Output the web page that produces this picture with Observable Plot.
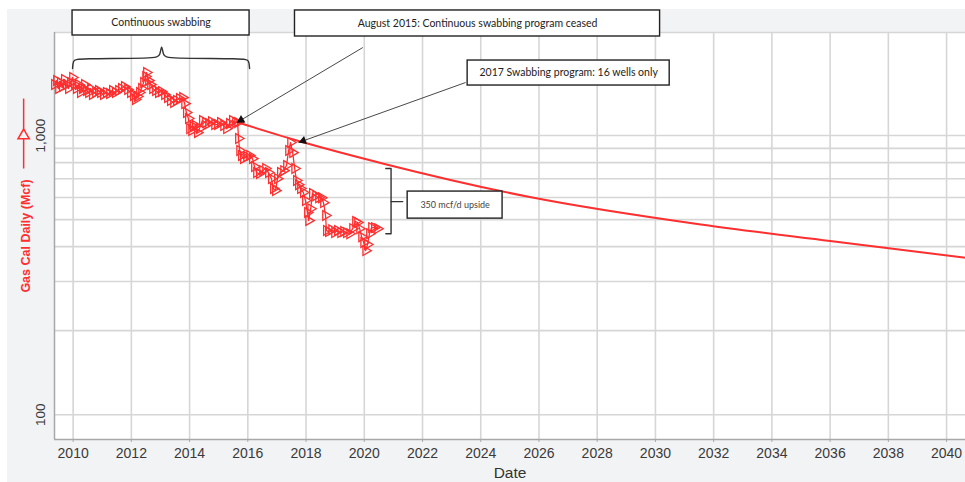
<!DOCTYPE html>
<html><head><meta charset="utf-8">
<script src="https://cdn.jsdelivr.net/npm/d3@7"></script>
<script src="https://cdn.jsdelivr.net/npm/@observablehq/plot@0.6"></script>
<style>
html,body{margin:0;padding:0;background:#fff;}
#chart{position:absolute;left:7px;top:9px;}
</style></head><body><div id="chart"></div>
<script>
// Observed production (decimal year, Mcf/d)
const obsYear = [
  2009.36,2009.43,2009.50,2009.56,2009.63,2009.70,2009.77,2009.84,2009.91,2009.98,
  2010.05,2010.11,2010.18,2010.25,2010.32,2010.39,2010.46,2010.53,2010.60,2010.66,
  2010.77,2010.87,2010.94,2011.04,2011.14,2011.25,2011.35,2011.45,2011.56,2011.66,
  2011.76,2011.87,2011.97,2012.07,2012.14,2012.21,2012.28,2012.35,2012.42,2012.49,
  2012.52,2012.59,2012.66,
  2012.73,2012.83,2012.93,2013.03,2013.14,2013.24,2013.34,2013.45,2013.55,2013.65,
  2013.76,2013.83,2013.89,2013.96,2014.00,2014.07,2014.13,2014.20,2014.27,2014.34,
  2014.44,2014.55,2014.65,2014.75,2014.86,2014.96,2015.06,2015.17,2015.27,2015.37,
  2015.47,2015.58,2015.65,
  2015.68,2015.72,2015.78,2015.85,2015.96,2016.06,2016.16,2016.23,2016.30,2016.40,
  2016.51,2016.61,2016.71,2016.81,2016.88,2016.95,2017.02,2017.12,2017.23,2017.33,
  2017.40,2017.47,2017.54,2017.61,2017.67,2017.74,2017.81,2017.91,2017.98,2018.05,
  2018.09,2018.16,2018.22,2018.33,2018.43,2018.53,2018.60,2018.67,2018.70,2018.77,
  2018.88,2018.98,2019.08,2019.19,2019.29,2019.39,2019.50,2019.60,2019.70,2019.77,
  2019.84,2019.91,2019.98,2020.05,2020.11,2020.18,2020.25,2020.35,2020.46
];
const obsValue = [
  1523,1574,1474,1549,1498,1588,1523,1474,1549,1614,
  1523,1474,1523,1426,1474,1523,1450,1426,1474,1403,
  1426,1450,1426,1403,1426,1414,1450,1426,1450,1474,
  1498,1462,1426,1391,1346,1380,1426,1474,1549,1627,
  1682,1574,1523,
  1474,1450,1426,1438,1403,1368,1335,1313,1335,1357,
  1368,1302,1209,1151,1059,1042,1077,1086,1025,1059,
  1132,1113,1104,1122,1095,1095,1113,1086,1059,1104,
  1132,1113,1113,
  976,884,848,827,841,848,827,774,737,731,
  749,762,737,701,646,635,701,737,749,781,
  884,944,869,762,690,667,646,625,585,530,
  496,547,620,609,599,599,575,517,457,453,
  460,449,457,449,453,449,445,464,492,488,
  464,434,414,387,407,445,468,468,464
];
// Decline forecast
const fcYear  = [2015.64, 2017.9, 2020.66, 2025.73, 2031.56, 2036, 2040.65];
const fcValue = [1116, 946, 793, 601, 480, 419, 365];

// Axis ticks
const xTicks = [2010,2012,2014,2016,2018,2020,2022,2024,2026,2028,2030,2032,2034,2036,2038,2040];
const yGridValues = [100,200,300,400,500,600,700,800,900,1000];
const yTickLabels = [100, 1000];

// Annotations (data coordinates)
const boxText   = ["Continuous swabbing", "August 2015: Continuous swabbing program ceased", "2017 Swabbing program: 16 wells only"];
const boxX1     = [2009.98, 2017.62, 2023.55];
const boxX2     = [2016.06, 2030.16, 2030.49];
const boxTop    = [2806, 2806, 1857];
const boxBottom = [2283, 2264, 1511];
const upsideText = ["350 mcf/d upside"];
const upsideX1 = [2021.49], upsideX2 = [2024.75], upsideTop = [630], upsideBottom = [504];

const arrowFromX = [2019.95, 2023.48], arrowFromY = [2067, 1549];
const arrowToX   = [2015.62, 2017.74], arrowToY   = [1113, 944];

const brace1X = [2009.98,2010.0,2010.12,2012.86,2012.99,2013.04,2013.09,2013.22,2015.92,2016.04,2016.06];
const brace1Y = [1738,1860,1888,1888,1930,2154,1930,1888,1888,1860,1738];
const brace2X = [2020.74,2020.92,2020.92,2020.74];
const brace2Y = [762,762,445,445];
const brace2MidX = [2020.92, 2021.32], brace2MidY = [580, 580];

const legendX = 2008.3; // red arrow next to the y label
const xMin = 2009.36, xMax = 2040.65, yMin = 81.5, yMax = 2340;

const obs = obsYear.map((x,i)=>({x, y: obsValue[i]}));
const fc = fcYear.map((x,i)=>({x, y: fcValue[i]}));
const boxes = boxText.map((t,i)=>({t, x1: boxX1[i], x2: boxX2[i], y1: boxTop[i], y2: boxBottom[i]}));
const upside = upsideText.map((t,i)=>({t, x1: upsideX1[i], x2: upsideX2[i], y1: upsideTop[i], y2: upsideBottom[i]}));
const arrows = arrowFromX.map((x,i)=>({x1: x, y1: arrowFromY[i], x2: arrowToX[i], y2: arrowToY[i]}));
const brace1 = brace1X.map((x,i)=>({x, y: brace1Y[i]}));
const brace2 = brace2X.map((x,i)=>({x, y: brace2Y[i]}));
const brace2Mid = brace2MidX.map((x,i)=>({x, y: brace2MidY[i]}));

const RED = "#ff2f2f";
const GRID = "#d6d6d6";
const ANN = "Lato, 'Liberation Sans', Arial, sans-serif";

const chart = Plot.plot({
  width: 958, height: 473,
  marginLeft: 47, marginTop: 23, marginRight: 0, marginBottom: 43,
  style: {background: "#f2f3f5", fontFamily: "'Liberation Sans', Arial, sans-serif", overflow: "visible"},
  x: {domain: [xMin, xMax], label: null},
  y: {type: "log", domain: [yMin, yMax], label: null, axis: null},
  marks: [
    Plot.frame({fill: "white", stroke: "none"}),
    Plot.gridX(xTicks, {stroke: GRID, strokeOpacity: 1, strokeWidth: 1.6}),
    Plot.gridY(yGridValues, {stroke: GRID, strokeOpacity: 1, strokeWidth: 1.6}),
    Plot.ruleY([yMax], {stroke: GRID, strokeWidth: 1.6}),
    Plot.ruleX([xMin], {stroke: "#a8a8a8", strokeWidth: 1.5}),
    Plot.ruleY([yMin], {stroke: "#a8a8a8", strokeWidth: 1.5}),
    Plot.axisX(xTicks, {tickSize: 3, tickPadding: 6, fontSize: 14, stroke: "#a8a8a8", fill: "#3a3a3a", tickFormat: d => String(d), label: null}),
    Plot.text(yTickLabels, {y: d => d, frameAnchor: "left", dx: -14, rotate: -90, text: d => d3.format(",")(d), fontSize: 13.5, fill: "#3a3a3a", textAnchor: "middle", lineAnchor: "middle"}),
    Plot.text(["Date"], {frameAnchor: "bottom", dy: 34, fontSize: 15.5, fill: "#333", lineAnchor: "middle", textAnchor: "middle"}),
    Plot.text(["Gas Cal Daily (Mcf)"], {frameAnchor: "left", dx: -29, rotate: -90, fontSize: 12.5, fontWeight: "bold", fill: RED, textAnchor: "middle", lineAnchor: "middle"}),
    Plot.link([{y1: 762, y2: 1357}], {x1: legendX, x2: legendX, y1: "y1", y2: "y2", stroke: RED, strokeWidth: 1.5, clip: false}),
    Plot.dot([1000], {x: legendX, y: d => d, symbol: "triangle", r: 4.2, stroke: RED, strokeWidth: 1.5, fill: "#f2f3f5", clip: false}),
    // data
    Plot.line(fc, {x: "x", y: "y", stroke: RED, strokeWidth: 2, curve: "monotone-x"}),
    Plot.line(obs, {x: "x", y: "y", stroke: RED, strokeWidth: 1.3}),
    Plot.dot(obs, {x: "x", y: "y", symbol: "triangle", rotate: 90, r: 3.6, stroke: RED, strokeWidth: 1.3, fill: "none"}),
    // annotations
    Plot.line(brace1, {x: "x", y: "y", stroke: "#333", strokeWidth: 1.4, curve: "basis"}),
    Plot.line(brace2, {x: "x", y: "y", stroke: "#333", strokeWidth: 1.4}),
    Plot.line(brace2Mid, {x: "x", y: "y", stroke: "#333", strokeWidth: 1.4}),
    Plot.link(arrows, {x1: "x1", y1: "y1", x2: "x2", y2: "y2", stroke: "#333", strokeWidth: 0.9}),
    Plot.dot(arrows.slice(0,1), {x: "x2", y: "y2", symbol: "triangle", r: 3.2, rotate: -120.8, dx: 4.3, dy: -2.5, fill: "#111", stroke: "none"}),
    Plot.dot(arrows.slice(1,2), {x: "x2", y: "y2", symbol: "triangle", r: 3.2, rotate: -109.8, dx: 4.7, dy: -1.7, fill: "#111", stroke: "none"}),
    Plot.rect(boxes, {x1: "x1", x2: "x2", y1: "y1", y2: "y2", fill: "white", stroke: "#222", strokeWidth: 1.4}),
    Plot.text(boxes, {x: d => (d.x1 + d.x2) / 2, y: d => Math.sqrt(d.y1 * d.y2), text: "t", fontSize: 10.5, fontFamily: ANN, fill: "#222"}),
    Plot.rect(upside, {x1: "x1", x2: "x2", y1: "y1", y2: "y2", fill: "white", stroke: "#222", strokeWidth: 1.4}),
    Plot.text(upside, {x: d => (d.x1 + d.x2) / 2, y: d => Math.sqrt(d.y1 * d.y2), text: "t", fontSize: 9, fontFamily: ANN, fill: "#444"})
  ]
});
document.getElementById("chart").appendChild(chart);
</script>
</body></html>
